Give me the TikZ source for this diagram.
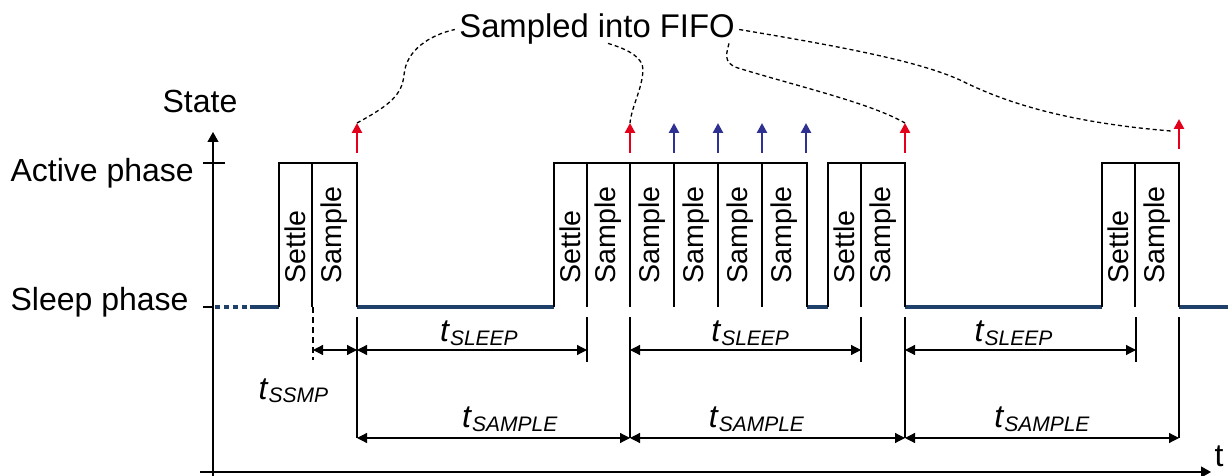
\documentclass[tikz,border=0pt]{standalone}
\usepackage{fontspec}
\setmainfont{Liberation Sans}
\usetikzlibrary{arrows.meta,positioning}
\definecolor{fifored}{RGB}{226,0,26}
\definecolor{readblue}{RGB}{46,49,146}
\definecolor{sleepblue}{RGB}{31,64,104}
\newcommand{\tlbl}[1]{\textit{t}\raisebox{-1.8pt}{\fontsize{10.5}{11}\selectfont\textit{#1}}}

\begin{document}
\begin{tikzpicture}[x=0.5pt,y=-0.5pt,line width=0.6pt,
    font=\fontsize{16}{19}\selectfont,
    sleepline/.style={sleepblue,line width=1.7pt},
    phase/.style={rotate=90,anchor=west,inner sep=0pt,font=\fontsize{14.3}{17}\selectfont},
    dimline/.style={{Triangle[length=5pt,width=5pt]}-{Triangle[length=5pt,width=5pt]}},
    fifoarrow/.style={fifored,line width=1.4pt,-{Triangle[length=5pt,width=5pt]}},
    readarrow/.style={readblue,line width=1.4pt,-{Triangle[length=5pt,width=5pt]}},
    link/.style={line width=0.65pt,dash pattern=on 2pt off 1.5pt},
    lbl/.style={above,inner sep=2pt}]
  \useasboundingbox (0,0) rectangle (1228,476);

  % axes
  \node[anchor=base west,inner sep=0pt] (time) at (1214,466) {t};
  \node[anchor=base] (state) at (200,113) {State};
  \node[anchor=base west,inner sep=0pt] (active) at (10,182) {Active phase};
  \node[anchor=base west,inner sep=0pt] (sleep) at (10,311) {Sleep phase};
  \draw[-{Triangle[length=5pt,width=5.5pt]}] (213,476) -- (213,132);
  \draw[-{Triangle[length=5pt,width=5.5pt]}] (200,472) -- (1211,472);
  \draw (203,163) -- (225,163);
  \draw (203,307) -- (213,307);

  % sleep level
  \draw[sleepline,dash pattern=on 2.5pt off 2pt] (215,307) -- (250,307);
  \foreach \a/\b in {250/279,357/554,807/828,905/1102,1179/1228}
    \draw[sleepline] (\a,307) -- (\b,307);

  % active phases
  \foreach \a/\b/\txt/\nm in {279/312/Settle/st1,312/357/Sample/sm1,
      554/587/Settle/st2,587/630/Sample/sm2,630/674/Sample/sm3,674/718/Sample/sm4,
      718/762/Sample/sm5,762/807/Sample/sm6,828/861/Settle/st3,861/905/Sample/sm7,
      1102/1135/Settle/st4,1135/1179/Sample/sm8}{
    \draw (\a,307) -- (\a,163) -- (\b,163) -- (\b,307);
    \node[phase] (\nm) at ({(\a+\b)/2},284) {\txt};
  }

  % samples
  \foreach \x/\nm in {357/f1,630/f2,905/f3}
    \draw[fifoarrow] (\x,153) -- (\x,123) coordinate (\nm);
  \draw[fifoarrow] (1179,149) -- (1179,119) coordinate (f4);
  \foreach \x in {674,718,762,806}
    \draw[readarrow] (\x,153) -- (\x,123);

  \node[anchor=base,inner sep=2pt,font=\fontsize{16.4}{19}\selectfont] (fifo) at (597,38) {Sampled into FIFO};
  \draw[link] (f1) .. controls (390,105) and (402,95) .. (404,75)
    .. controls (406,50) and (430,35) .. (fifo.west);
  \draw[link] ([xshift=5.5pt,yshift=3pt]fifo.south) .. controls (630,50) and (643,58) .. (643,70)
    .. controls (642,90) and (632,105) .. (f2);
  \draw[link] ([xshift=66pt,yshift=3pt]fifo.south) .. controls (727,52) and (722,63) .. (738,68)
    .. controls (800,87) and (870,103) .. (f3);
  \draw[link] (fifo.east) .. controls (850,48) and (920,62) .. (960,80)
    .. controls (1000,100) and (1060,122) .. ([shift={(-8,12)}]f4);

  % durations
  \foreach \x/\nm in {313/k0,357/k1,587/k2,630/k3,861/k4,905/k5,1136/k6,1179/k7}
    \coordinate (\nm) at (\x,350);
  \foreach \x/\nm in {357/w1,630/w3,905/w5,1179/w7}
    \coordinate (\nm) at (\x,438);
  \draw[dash pattern=on 3pt off 2pt] (313,307) -- (313,360);
  \foreach \x in {587,861,1136}
    \draw (\x,317) -- (\x,362);
  \foreach \x in {357,630,905,1179}
    \draw (\x,317) -- (\x,438);

  \draw[dimline] (k0) -- (k1);
  \draw[dimline] (k1) -- node[lbl,pos=0.53] (sl1) {\tlbl{SLEEP}} (k2);
  \draw[dimline] (k3) -- node[lbl,pos=0.52] (sl2) {\tlbl{SLEEP}} (k4);
  \draw[dimline] (k5) -- node[lbl,pos=0.47] (sl3) {\tlbl{SLEEP}} (k6);
  \draw[dimline] (w1) -- node[lbl,above=1pt,pos=0.56] (sa1) {\tlbl{SAMPLE}} (w3);
  \draw[dimline] (w3) -- node[lbl,above=1pt,pos=0.46] (sa2) {\tlbl{SAMPLE}} (w5);
  \draw[dimline] (w5) -- node[lbl,above=1pt,pos=0.5] (sa3) {\tlbl{SAMPLE}} (w7);
  \node[anchor=base west,inner sep=0pt] (ssmp) at (258,399) {\tlbl{SSMP}};
\end{tikzpicture}
\end{document}
